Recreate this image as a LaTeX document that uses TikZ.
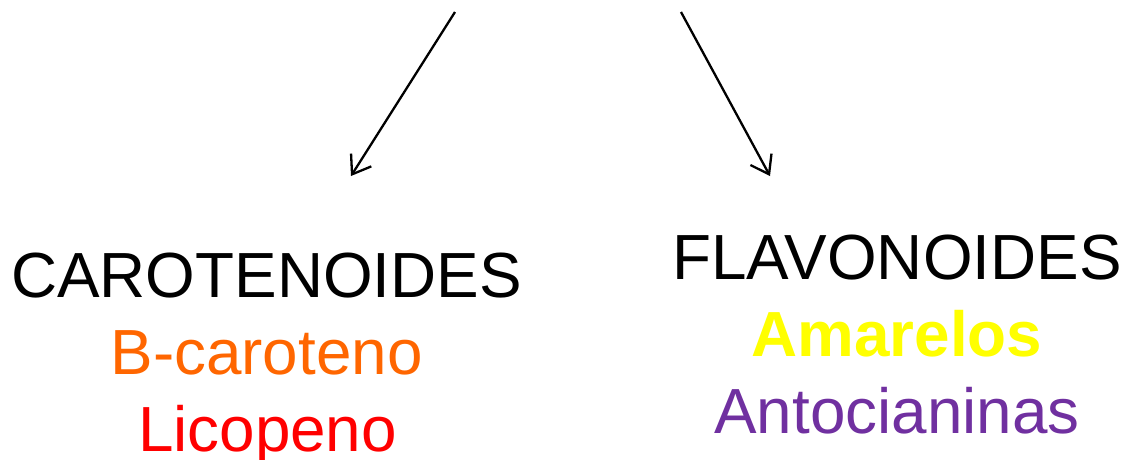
\documentclass[tikz,border=0pt]{standalone}
\usepackage{fontspec}
\setmainfont{Liberation Sans}
\usetikzlibrary{arrows.meta}
\begin{document}
\begin{tikzpicture}[x=1pt,y=-1pt,
  lbl/.style={anchor=base,inner sep=0pt,font=\fontsize{63.8}{70}\selectfont},
  arr/.style={line width=2.3pt,-{Straight Barb[length=17pt,width=24pt]}}]
\useasboundingbox (0,0) rectangle (1124,459);
\coordinate (s1) at (455,12);
\coordinate (e1) at (351,176);
\coordinate (s2) at (681,12);
\coordinate (e2) at (770,176);
\draw[arr] (s1) -- (e1);
\draw[arr] (s2) -- (e2);
\node[lbl] (car) at (266.5,297) {CAROTENOIDES};
\node[lbl,text={rgb,255:red,255;green,102;blue,0}] (bcar) at (266.5,374) {B-caroteno};
\node[lbl,text={rgb,255:red,255;green,0;blue,0}] (lic) at (267.5,451) {Licopeno};
\node[lbl] (fla) at (897,279) {FLAVONOIDES};
\node[lbl,text={rgb,255:red,255;green,255;blue,0},font=\fontsize{63.8}{70}\selectfont\bfseries] (ama) at (897,356) {Amarelos};
\node[lbl,text={rgb,255:red,112;green,48;blue,160}] (ant) at (897,433) {Antocianinas};
\end{tikzpicture}
\end{document}
